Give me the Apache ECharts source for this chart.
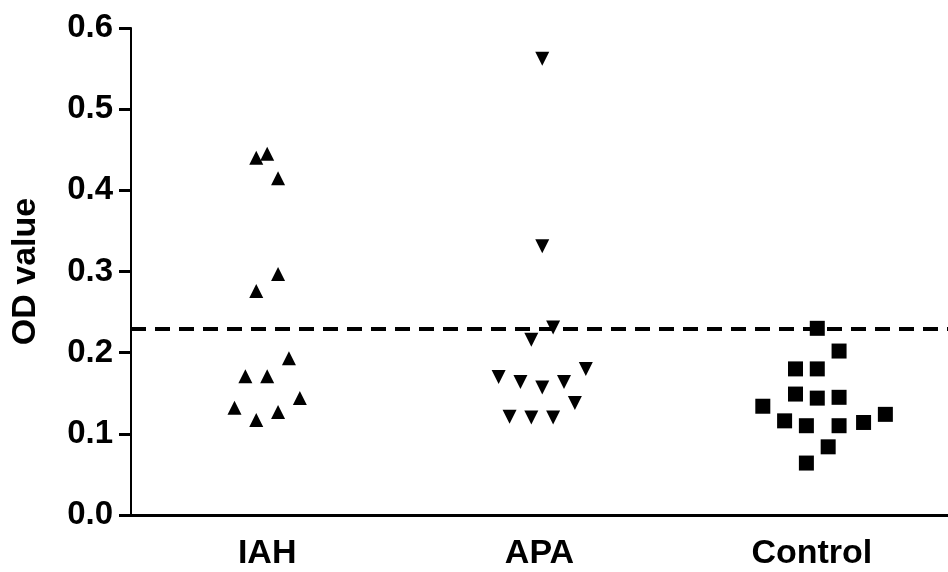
<!DOCTYPE html>
<html>
<head>
<meta charset="utf-8">
<script src="https://cdn.jsdelivr.net/npm/echarts@6/dist/echarts.min.js"></script>
<style>
  html, body { margin: 0; padding: 0; background: #fff; }
  #chart { width: 948px; height: 572px; }
</style>
</head>
<body>
<div id="chart"></div>
<script>
// 分组名称（横轴标签）
const categories = ['IAH', 'APA', 'Control']
const yTicks = [0, 0.1, 0.2, 0.3, 0.4, 0.5, 0.6]

// 各组散点：横向抖动位置 + OD 值
const iahX = [1.00, 0.96, 1.04, 1.04, 0.96, 1.08, 0.92, 1.00, 1.12, 0.88, 1.04, 0.96]
const iahY = [0.445, 0.440, 0.415, 0.297, 0.276, 0.193, 0.171, 0.171, 0.144, 0.132, 0.127, 0.117]

const apaX = [2.01, 2.01, 2.05, 1.97, 2.17, 1.85, 1.93, 2.09, 2.01, 2.13, 1.89, 1.97, 2.05]
const apaY = [0.562, 0.331, 0.231, 0.216, 0.180, 0.170, 0.164, 0.164, 0.157, 0.138, 0.121, 0.120, 0.120]

const ctrlX = [3.02, 3.10, 2.94, 3.02, 2.94, 3.02, 3.10, 2.82, 3.27, 2.90, 2.98, 3.10, 3.19, 3.06, 2.98]
const ctrlY = [0.230, 0.202, 0.180, 0.180, 0.149, 0.144, 0.145, 0.134, 0.124, 0.116, 0.110, 0.110, 0.114, 0.084, 0.064]

// 临界值（虚线）
const cutoff = 0.227

const FONT = '"Liberation Sans", Arial, sans-serif'
const zip = (xs, ys) => xs.map((x, i) => [x, ys[i]])

const chart = echarts.init(document.getElementById('chart'))

chart.setOption({
  backgroundColor: '#fff',
  animation: false,
  grid: { left: 131, right: 0, top: 28, bottom: 57, containLabel: false },
  xAxis: {
    type: 'value',
    min: 0.5,
    max: 3.5,
    splitLine: { show: false },
    axisLine: { lineStyle: { color: '#000', width: 3 } },
    axisTick: { show: false },
    axisLabel: {
      customValues: [1, 2, 3],
      formatter: v => categories[Math.round(v) - 1] || '',
      color: '#000',
      fontFamily: FONT,
      fontWeight: 'bold',
      fontSize: 34,
      margin: 22
    }
  },
  yAxis: {
    type: 'value',
    min: 0,
    max: 0.6,
    interval: 0.1,
    name: 'OD value',
    nameLocation: 'middle',
    nameGap: 88,
    nameTextStyle: { color: '#000', fontFamily: FONT, fontWeight: 'bold', fontSize: 34 },
    splitLine: { show: false },
    axisLine: { show: true, lineStyle: { color: '#000', width: 2 } },
    axisTick: { show: true, length: 12, lineStyle: { color: '#000', width: 3 } },
    axisLabel: {
      formatter: v => yTicks.includes(+v.toFixed(1)) ? v.toFixed(1) : '',
      color: '#000',
      fontFamily: FONT,
      fontWeight: 'bold',
      fontSize: 33,
      margin: 18
    }
  },
  series: [
    {
      name: 'IAH',
      type: 'scatter',
      symbol: 'triangle',
      symbolSize: 14,
      itemStyle: { color: '#000', opacity: 1 },
      data: zip(iahX, iahY),
      markLine: {
        silent: true,
        symbol: 'none',
        label: { show: false },
        lineStyle: { color: '#000', width: 4, type: [15, 9], opacity: 1 },
        data: [{ yAxis: cutoff }]
      }
    },
    {
      name: 'APA',
      type: 'scatter',
      symbol: 'triangle',
      symbolRotate: 180,
      symbolSize: 14,
      itemStyle: { color: '#000', opacity: 1 },
      data: zip(apaX, apaY)
    },
    {
      name: 'Control',
      type: 'scatter',
      symbol: 'rect',
      symbolSize: 15,
      itemStyle: { color: '#000', opacity: 1 },
      data: zip(ctrlX, ctrlY)
    }
  ]
})

window.addEventListener('resize', () => chart.resize())
</script>
</body>
</html>
